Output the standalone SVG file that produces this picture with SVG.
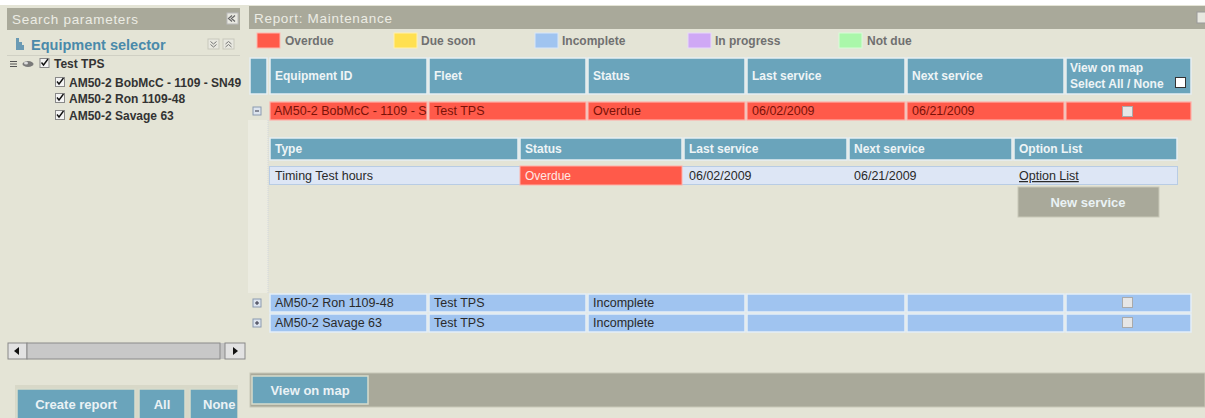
<svg xmlns="http://www.w3.org/2000/svg" width="1205" height="418" viewBox="0 0 1205 418">
<style>
text{font-family:"Liberation Sans",Arial,sans-serif}
.bar{fill:#a9a99a}
.ttl{fill:#ecece4;font-size:13.5px;letter-spacing:0.7px}
.hd{fill:#6aa4bb;stroke:#e6eef2;stroke-width:1.5}
.ht{fill:#eef4f6;font-size:12px;font-weight:bold}
.red{fill:#ff5a4a;stroke:#ffb0a8;stroke-width:1.2}
.inc{fill:#a0c4f0;stroke:#e4eef8;stroke-width:1.5}
.rt{font-size:12.5px;fill:#2a2a2a}
.rr{font-size:12.5px;fill:#7a1208}
.lg{font-size:12px;font-weight:bold;fill:#707070}
.tr{font-size:12px;font-weight:bold;fill:#333}
.btn{fill:#6aa4bb;stroke:#d8dccc;stroke-width:1.5}
.bt{fill:#eaf2f5;font-size:13px;font-weight:bold;text-anchor:middle}
.cb{fill:#f4f4f4;stroke:#888;stroke-width:1}
.tk{fill:none;stroke:#111;stroke-width:1.4}
.sub{fill:#dde6f5;stroke:#b8cce4;stroke-width:1}
</style>
<rect width="1205" height="418" fill="#e4e4d6"/>
<rect width="1205" height="5" fill="#ffffff"/>

<g id="left-panel">
  <rect x="7" y="8" width="233" height="22" class="bar"/>
  <text x="12" y="24" class="ttl">Search parameters</text>
  <rect x="227" y="13" width="11" height="11" fill="#e8e8e0" stroke="#bbb"/>
  <path d="M235 15.5 L231.5 18.5 L235 21.5 M232 15.5 L228.5 18.5 L232 21.5" fill="none" stroke="#666" stroke-width="1.2"/>
</g>

<g id="equipment-selector">
  <path d="M16 38 h3 v4 h3 v3 h2 v5 h-8 z" fill="#6a9ab4"/>
  <text x="31" y="50" fill="#4a8aaa" font-size="14.5" font-weight="bold">Equipment selector</text>
  <rect x="208" y="39" width="11" height="10" fill="#e8e8e0" stroke="#c8c8bc"/>
  <path d="M210.5 41.5 l3 2.5 l3 -2.5 M210.5 44.5 l3 2.5 l3 -2.5" fill="none" stroke="#777" stroke-width="1"/>
  <rect x="223" y="39" width="11" height="10" fill="#e8e8e0" stroke="#c8c8bc"/>
  <path d="M225.5 44 l3 -2.5 l3 2.5 M225.5 47 l3 -2.5 l3 2.5" fill="none" stroke="#777" stroke-width="1"/>
  <line x1="7" y1="55.5" x2="240" y2="55.5" stroke="#d0d0c4"/>
</g>

<g id="tree">
  <path d="M10 61.5 h7 M10 64 h7 M10 66.5 h7" stroke="#555" stroke-width="1"/>
  <ellipse cx="28" cy="64" rx="5.5" ry="3" fill="#7a7a7a"/>
  <ellipse cx="26" cy="63" rx="2" ry="1.5" fill="#dcdcdc"/>
  <rect x="40" y="58.5" width="9" height="9" class="cb"/>
  <path d="M41.5 62.5 l2 2.5 l4.5 -6" class="tk"/>
  <text x="54" y="68" class="tr">Test TPS</text>

  <rect x="55.5" y="77.5" width="9" height="9" class="cb"/>
  <path d="M57 81.5 l2 2.5 l4.5 -6" class="tk"/>
  <text x="69" y="87" class="tr">AM50-2 BobMcC - 1109 - SN49</text>

  <rect x="55.5" y="93.5" width="9" height="9" class="cb"/>
  <path d="M57 97.5 l2 2.5 l4.5 -6" class="tk"/>
  <text x="69" y="103" class="tr">AM50-2 Ron 1109-48</text>

  <rect x="55.5" y="110.5" width="9" height="9" class="cb"/>
  <path d="M57 114.5 l2 2.5 l4.5 -6" class="tk"/>
  <text x="69" y="120" class="tr">AM50-2 Savage 63</text>
</g>

<g id="scrollbar">
  <rect x="8" y="343" width="237" height="16" fill="#c4c4c4"/>
  <rect x="8" y="343" width="19" height="16" fill="#e2e2e2" stroke="#888"/>
  <path d="M14 351 l5 -4 v8 z" fill="#111"/>
  <rect x="27" y="343" width="193" height="16" fill="#c8c8c8" stroke="#8a8a8a"/>
  <rect x="225" y="343" width="20" height="16" fill="#e2e2e2" stroke="#888"/>
  <path d="M238 351 l-5 -4 v8 z" fill="#111"/>
</g>

<g id="left-buttons">
  <rect x="15" y="385" width="223" height="34" fill="#d8d8c8"/>
  <rect x="17" y="389" width="118" height="30" class="btn"/>
  <text x="76" y="409" class="bt">Create report</text>
  <rect x="139" y="389" width="46" height="30" class="btn"/>
  <text x="162" y="409" class="bt">All</text>
  <rect x="190" y="389" width="48" height="30" class="btn"/>
  <text x="203" y="409" class="bt" style="text-anchor:start">None</text>
  <rect x="238" y="380" width="10" height="38" fill="#e4e4d6"/>
</g>

<g id="report-header">
  <rect x="249" y="6" width="956" height="23" class="bar"/>
  <text x="254" y="23" class="ttl">Report: Maintenance</text>
  <rect x="1197" y="12" width="10" height="11" fill="#e8e8e0" stroke="#999"/>
</g>

<g id="legend">
  <rect x="257" y="33" width="23" height="15" fill="#ff5a4a" stroke="#ffb8b0"/>
  <text x="285" y="45" class="lg">Overdue</text>
  <rect x="394" y="33" width="23" height="15" fill="#ffe050" stroke="#fff0b0"/>
  <text x="421" y="45" class="lg">Due soon</text>
  <rect x="535" y="33" width="23" height="15" fill="#a0c4f0" stroke="#d8e6f8"/>
  <text x="562" y="45" class="lg">Incomplete</text>
  <rect x="688" y="33" width="23" height="15" fill="#cfa8f5" stroke="#e8d8fa"/>
  <text x="715" y="45" class="lg">In progress</text>
  <rect x="839" y="33" width="23" height="15" fill="#aaf7aa" stroke="#d8fbd8"/>
  <text x="867" y="45" class="lg">Not due</text>
</g>

<g id="table-header">
  <rect x="250" y="58" width="17" height="36" class="hd"/>
  <rect x="270" y="58" width="157" height="36" class="hd"/>
  <rect x="429" y="58" width="157" height="36" class="hd"/>
  <rect x="588" y="58" width="157" height="36" class="hd"/>
  <rect x="747" y="58" width="158" height="36" class="hd"/>
  <rect x="907" y="58" width="157" height="36" class="hd"/>
  <rect x="1066" y="58" width="125" height="36" class="hd"/>
  <text x="275" y="80" class="ht">Equipment ID</text>
  <text x="434" y="80" class="ht">Fleet</text>
  <text x="593" y="80" class="ht">Status</text>
  <text x="752" y="80" class="ht">Last service</text>
  <text x="912" y="80" class="ht">Next service</text>
  <text x="1070" y="72" class="ht">View on map</text>
  <text x="1070" y="88" class="ht">Select All / None</text>
  <rect x="1175.5" y="77.5" width="10" height="10" fill="#fff" stroke="#333"/>
</g>

<g id="strip">
  <rect x="248" y="120" width="20" height="173" fill="#ebebe0"/>
  <line x1="268" y1="120" x2="268" y2="293" stroke="#d2d6dc" stroke-dasharray="1 1"/>
</g>

<g id="row-overdue">
  <rect x="253" y="107" width="8" height="8" fill="#dde4ee" stroke="#8a9ab0"/>
  <path d="M255 111 h4" stroke="#334" stroke-width="1"/>
  <rect x="270" y="102" width="157" height="18" class="red"/>
  <rect x="429" y="102" width="157" height="18" class="red"/>
  <rect x="588" y="102" width="157" height="18" class="red"/>
  <rect x="747" y="102" width="158" height="18" class="red"/>
  <rect x="907" y="102" width="157" height="18" class="red"/>
  <rect x="1066" y="102" width="125" height="18" class="red"/>
  <text x="274" y="115" class="rr" font-size="12">AM50-2 BobMcC - 1109 - S</text>
  <text x="434" y="115" class="rr">Test TPS</text>
  <text x="593" y="115" class="rr" font-size="12">Overdue</text>
  <text x="752" y="115" class="rr" font-size="12">06/02/2009</text>
  <text x="912" y="115" class="rr" font-size="12">06/21/2009</text>
  <rect x="1122.5" y="106.5" width="10" height="10" fill="#e6e6e6" stroke="#aaa"/>
</g>

<g id="sub-table">
  <rect x="270" y="138" width="248" height="22" class="hd"/>
  <rect x="520" y="138" width="162" height="22" class="hd"/>
  <rect x="684" y="138" width="163" height="22" class="hd"/>
  <rect x="849" y="138" width="163" height="22" class="hd"/>
  <rect x="1014" y="138" width="163" height="22" class="hd"/>
  <text x="275" y="153" class="ht">Type</text>
  <text x="525" y="153" class="ht">Status</text>
  <text x="689" y="153" class="ht">Last service</text>
  <text x="854" y="153" class="ht">Next service</text>
  <text x="1019" y="153" class="ht">Option List</text>

  <rect x="269.5" y="166.5" width="908" height="18" class="sub"/>
  <rect x="520" y="166" width="162" height="19" fill="#ff5a4a" stroke="#ffb0a8"/>
  <text x="275" y="180" class="rt" font-size="12">Timing Test hours</text>
  <text x="525" y="180" fill="#ffe8e4" font-size="12">Overdue</text>
  <text x="689" y="180" class="rt" font-size="12">06/02/2009</text>
  <text x="854" y="180" class="rt" font-size="12">06/21/2009</text>
  <text x="1019" y="180" class="rt" font-size="12" text-decoration="underline">Option List</text>
</g>

<g id="new-service">
  <rect x="1018" y="187" width="141" height="30" fill="#a9a99a" stroke="#c8c8b8"/>
  <text x="1088" y="207" class="bt" fill="#eeeeea">New service</text>
</g>

<g id="row-ron">
  <rect x="253" y="299" width="8" height="8" fill="#dde4ee" stroke="#8a9ab0"/>
  <path d="M255 303 h4 M257 301 v4" stroke="#334" stroke-width="1"/>
  <rect x="270" y="294" width="157" height="18" class="inc"/>
  <rect x="429" y="294" width="157" height="18" class="inc"/>
  <rect x="588" y="294" width="157" height="18" class="inc"/>
  <rect x="747" y="294" width="158" height="18" class="inc"/>
  <rect x="907" y="294" width="157" height="18" class="inc"/>
  <rect x="1066" y="294" width="125" height="18" class="inc"/>
  <text x="275" y="307" class="rt">AM50-2 Ron 1109-48</text>
  <text x="434" y="307" class="rt">Test TPS</text>
  <text x="593" y="307" class="rt" font-size="12">Incomplete</text>
  <rect x="1122.5" y="297.5" width="10" height="10" fill="#e6e6e6" stroke="#aaa"/>
</g>

<g id="row-savage">
  <rect x="253" y="319" width="8" height="8" fill="#dde4ee" stroke="#8a9ab0"/>
  <path d="M255 323 h4 M257 321 v4" stroke="#334" stroke-width="1"/>
  <rect x="270" y="314" width="157" height="18" class="inc"/>
  <rect x="429" y="314" width="157" height="18" class="inc"/>
  <rect x="588" y="314" width="157" height="18" class="inc"/>
  <rect x="747" y="314" width="158" height="18" class="inc"/>
  <rect x="907" y="314" width="157" height="18" class="inc"/>
  <rect x="1066" y="314" width="125" height="18" class="inc"/>
  <text x="275" y="327" class="rt">AM50-2 Savage 63</text>
  <text x="434" y="327" class="rt">Test TPS</text>
  <text x="593" y="327" class="rt" font-size="12">Incomplete</text>
  <rect x="1122.5" y="317.5" width="10" height="10" fill="#e6e6e6" stroke="#aaa"/>
</g>

<g id="bottom-bar">
  <rect x="250" y="373" width="955" height="34" class="bar" stroke="#c8c8b8"/>
  <rect x="252" y="376" width="116" height="28" class="btn"/>
  <text x="310" y="395" class="bt">View on map</text>
</g>
</svg>
